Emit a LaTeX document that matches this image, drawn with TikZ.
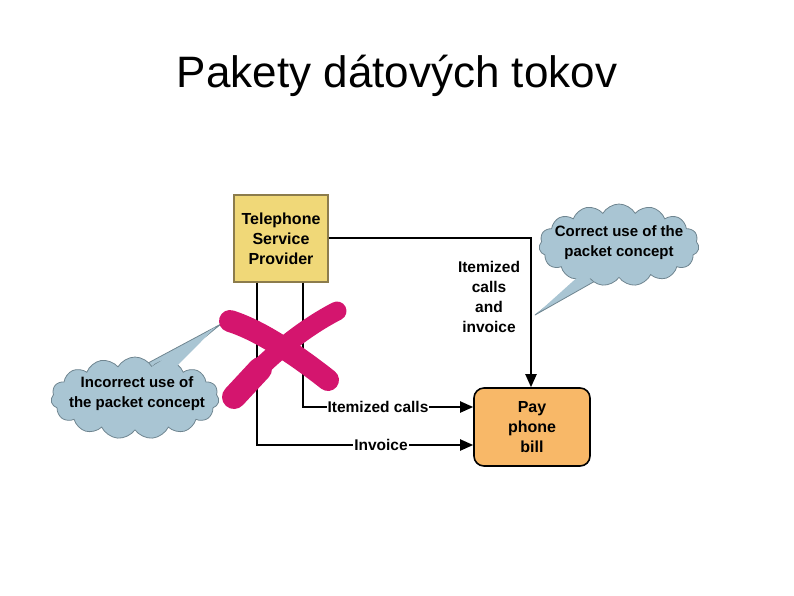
\documentclass[tikz,border=0pt]{standalone}
\usepackage{fontspec}
\setmainfont{Liberation Sans}
\usetikzlibrary{arrows.meta,shapes.symbols,calc}
\definecolor{tspfill}{HTML}{F0D878}
\definecolor{tspdraw}{HTML}{8C7C4C}
\definecolor{payfill}{HTML}{F8B868}
\definecolor{cloudfill}{HTML}{A9C5D3}
\definecolor{clouddraw}{HTML}{6F8590}
\definecolor{xpink}{HTML}{D4156E}
\begin{document}
\begin{tikzpicture}[x=1pt,y=-1pt,
  boxtext/.style={font=\fontsize{16}{20}\selectfont\bfseries,align=center,text=black},
  tspbox/.style={boxtext,draw=tspdraw,line width=1.2pt,fill=tspfill,minimum width=94pt,minimum height=87pt,inner sep=0pt},
  paybox/.style={boxtext,draw=black,line width=1.6pt,fill=payfill,rounded corners=10pt,minimum width=116pt,minimum height=78pt,inner sep=0pt},
  conn/.style={line width=2pt,black},
  arr/.style={conn,-{Triangle[length=13pt,width=11pt]}},
  lbl/.style={font=\fontsize{15.5}{20}\selectfont\bfseries,align=center,fill=white,inner sep=1pt},
  bubble/.style={cloud,cloud puffs=15,cloud puff arc=120,fill=cloudfill,draw=clouddraw,line width=0.8pt,inner sep=0pt},
  bubbletext/.style={font=\fontsize{15}{20}\selectfont\bfseries,align=center,inner sep=0pt},
  tail/.style={fill=cloudfill,draw=clouddraw,line width=0.8pt,line join=round},
  xstroke/.style={draw=xpink,line cap=round,line join=round}
]
\useasboundingbox (0,0) rectangle (794,595);

\node (title) at (397,76) {\fontsize{44}{52}\selectfont Pakety dátových tokov};

\node[tspbox] (tsp) at (281,238.5) {Telephone\\Service\\Provider};
\node[paybox] (pay) at (532,427) {Pay\\phone\\bill};

\coordinate (topc) at (531,238);
\draw[arr] (tsp.east |- topc) -- (topc) -- (pay.north -| topc);

\coordinate (ic) at ($(tsp.south west)+(70,0)$);
\coordinate (ivc) at ($(tsp.south west)+(24,0)$);
\coordinate (icy) at ($(pay.west)+(0,-20)$);
\coordinate (ivy) at ($(pay.west)+(0,18)$);
\draw[arr] (ic) -- (ic |- icy) -- (icy);
\draw[arr] (ivc) -- (ivc |- ivy) -- (ivy);

\node[lbl] (lic) at (378,407) {Itemized calls};
\node[lbl] (liv) at (381,445) {Invoice};
\node[lbl,fill=none] (lall) at (489,297) {Itemized\\calls\\and\\invoice};

% right cloud
\coordinate (rtip) at (535,315);
\draw[tail] (rtip) -- (580,280) -- (604,276) -- cycle;
\node[bubble,minimum width=160pt,minimum height=82pt] (rcloud) at (619,245) {};
\fill[cloudfill] ($(rtip)!0.06!(580,280)$) -- (581,274) -- (603,270) -- cycle;
\node[bubbletext] (rtext) at (619,243) {Correct use of the\\packet concept};

% left cloud
\coordinate (ltip) at (221,324);
\draw[tail] (ltip) -- (135,370) -- (172,364) -- cycle;
\node[bubble,minimum width=168pt,minimum height=82pt] (lcloud) at (135,398) {};
\fill[cloudfill] ($(ltip)!0.06!(135,370)$) -- (137,376) -- (173,370) -- cycle;
\node[bubbletext] (ltext) at (137,394) {Incorrect use of\\the packet concept};

% pink cross
\draw[xstroke,line width=22pt] (230,321) .. controls (262,331) and (300,358) .. (328,380);
\draw[xstroke,line width=19pt] (337,311) .. controls (300,330) and (262,362) .. (233,397);
\draw[xstroke,line width=24pt] (260,369) -- (234,397);
\end{tikzpicture}
\end{document}
